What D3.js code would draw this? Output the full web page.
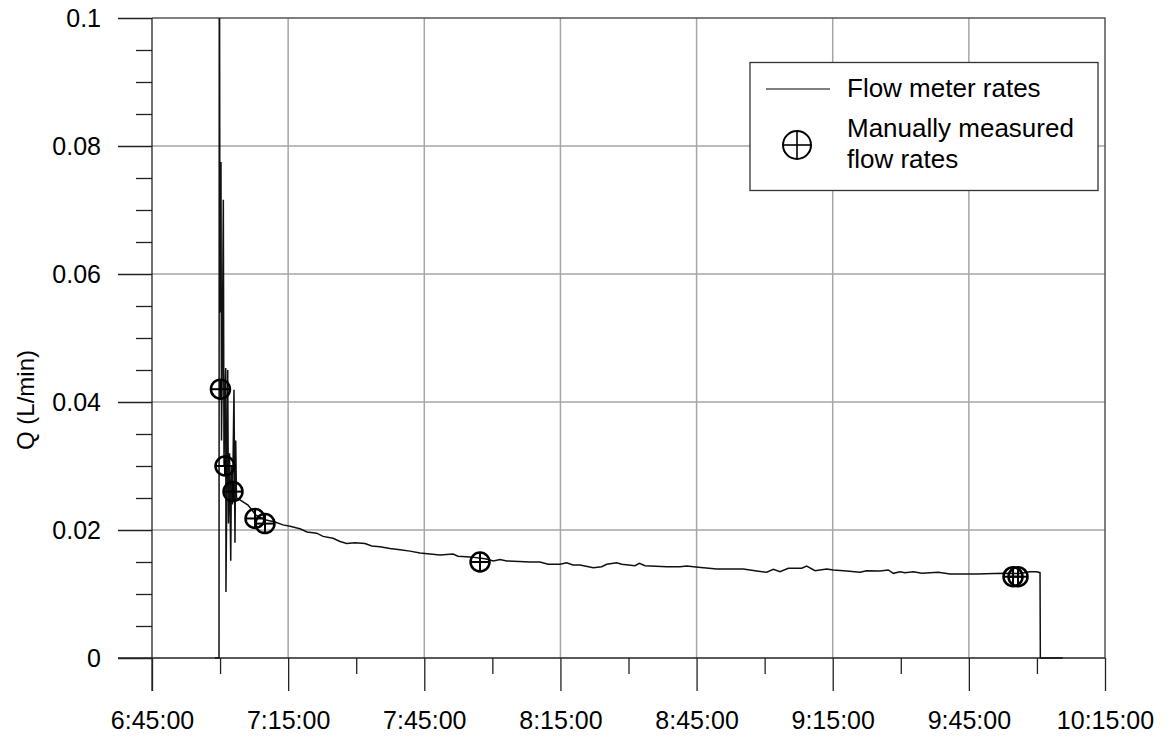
<!DOCTYPE html>
<html>
<head>
<meta charset="utf-8">
<script src="https://cdn.jsdelivr.net/npm/d3@7"></script>
<style>
  html, body { margin: 0; padding: 0; background: #fff; }
  svg { display: block; font-family: "Liberation Sans", Arial, sans-serif; }
</style>
</head>
<body>
<svg id="chart" width="1172" height="738"></svg>
<script>
// Flow meter record (clock time, L/min)
const flowTimes = [
  "6:58:53","6:59:46","6:59:50","6:59:59","7:00:12","7:00:19","7:00:29","7:00:43",
  "7:00:52","7:01:03","7:01:15","7:01:18","7:01:41","7:01:51","7:02:05","7:02:21",
  "7:02:31","7:02:44","7:03:04","7:03:17","7:03:27","7:03:37",
  "7:04:23","7:06:09","7:07:55","7:09:54","7:12:06","7:13:52","7:15:25","7:16:57",
  "7:17:37","7:19:09","7:21:18","7:22:41","7:24:53","7:26:26","7:27:54","7:29:44",
  "7:31:56","7:33:25","7:35:14","7:37:27","7:39:39","7:41:51","7:44:03","7:48:28",
  "7:51:20","7:52:26","7:55:04","7:58:23","8:00:13","8:01:41","8:03:10","8:08:18",
  "8:10:30","8:12:16","8:14:54","8:16:23","8:17:46","8:19:19","8:22:15","8:24:06",
  "8:25:12","8:27:24","8:28:30","8:31:26","8:32:23","8:33:38","8:38:25","8:41:21",
  "8:42:50","8:45:23","8:49:26","8:55:18","8:58:15","9:00:27","9:01:55","9:03:23",
  "9:05:13","9:08:10","9:09:16","9:11:06","9:13:41","9:15:08","9:18:05","9:21:01",
  "9:22:29","9:25:25","9:27:15","9:28:21","9:29:50","9:30:56","9:32:46","9:34:37",
  "9:38:16","9:40:51","9:46:44","9:52:36","9:56:16","9:58:28","9:59:57","10:00:41",
  "10:00:45","10:05:41"
];
const flowRates = [
  0, 0, 0.13, 0.054, 0.0775, 0.034, 0.046, 0.0716,
  0.030, 0.040, 0.0453, 0.0103, 0.045, 0.021, 0.032, 0.0152,
  0.030, 0.024, 0.0419, 0.018, 0.034, 0.025,
  0.0247, 0.0239, 0.0223, 0.0216, 0.02125, 0.0208, 0.0206, 0.0203,
  0.0202, 0.0197, 0.0195, 0.0190, 0.0187, 0.0182, 0.0179, 0.0180,
  0.0179, 0.0175, 0.0174, 0.0171, 0.0169, 0.0167, 0.0164, 0.0161,
  0.01625, 0.0159, 0.0158, 0.0155, 0.01516, 0.0154, 0.01516, 0.0150,
  0.0150, 0.01464, 0.01464, 0.01489, 0.01453, 0.01453, 0.01411, 0.01427,
  0.01464, 0.01489, 0.01464, 0.01442, 0.0148, 0.01442, 0.01427, 0.01427,
  0.01437, 0.01417, 0.0139, 0.0139, 0.01359, 0.01339, 0.01386, 0.01348,
  0.01402, 0.01402, 0.01437, 0.01364, 0.0139, 0.01375, 0.01359, 0.01339,
  0.01364, 0.01359, 0.01375, 0.01323, 0.01348, 0.01333, 0.01348, 0.01323,
  0.01339, 0.01313, 0.01313, 0.01323, 0.0132, 0.01348, 0.01348, 0.01333,
  0, 0
];

// Hand-timed bucket measurements
const manualTimes = ["7:00:05","7:01:05","7:02:51","7:07:42","7:09:54","7:57:17","9:54:44","9:55:50"];
const manualRates = [0.042, 0.030, 0.026, 0.0218, 0.021, 0.015, 0.0127, 0.0127];

// Axis ticks
const xTickLabels = ["6:45:00","7:15:00","7:45:00","8:15:00","8:45:00","9:15:00","9:45:00","10:15:00"];
const yTickValues = [0, 0.02, 0.04, 0.06, 0.08, 0.1];
const yTickLabels = ["0", "0.02", "0.04", "0.06", "0.08", "0.1"];
const yAxisTitle = "Q (L/min)";
const legendLabels = ["Flow meter rates", ["Manually measured", "flow rates"]];

const toSec = s => { const p = s.split(":").map(Number); return p[0] * 3600 + p[1] * 60 + p[2]; };
const fmtTime = sec => {
  const h = Math.floor(sec / 3600), m = Math.floor((sec % 3600) / 60), s = sec % 60;
  return h + ":" + String(m).padStart(2, "0") + ":" + String(s).padStart(2, "0");
};

const svg = d3.select("#chart");
const L = 152, R = 1105, T = 18, B = 658;
const fontSize = 25;

const xMajor = xTickLabels.map(toSec);
const x = d3.scaleLinear().domain([xMajor[0], xMajor[xMajor.length - 1]]).range([L, R]);
const y = d3.scaleLinear().domain([0, 0.1]).range([B, T]);

const xMinor = d3.range(xMajor[0] + 900, xMajor[xMajor.length - 1], 1800);
const yMinor = d3.range(0, 0.1001, 0.005).filter(v => !yTickValues.some(t => Math.abs(t - v) < 1e-9));

// Grid
const grid = svg.append("g").attr("stroke", "#a6a6a6").attr("stroke-width", 1.5);
grid.selectAll("line.gx").data(xMajor.slice(1, -1)).join("line")
  .attr("x1", d => x(d)).attr("x2", d => x(d)).attr("y1", T).attr("y2", B);
grid.selectAll("line.gy").data(yTickValues.slice(1, -1)).join("line")
  .attr("y1", d => y(d)).attr("y2", d => y(d)).attr("x1", L).attr("x2", R);

// Frame top and right
svg.append("path")
  .attr("d", `M${L},${T}H${R}V${B}`)
  .attr("fill", "none").attr("stroke", "#555").attr("stroke-width", 1.5);

// X axis
const xAxis = d3.axisBottom(x).tickValues(xMajor).tickFormat(fmtTime).tickSize(33).tickPadding(20);
const gx = svg.append("g").attr("transform", `translate(0,${B})`).call(xAxis);
gx.select(".domain").remove();
gx.append("line").attr("x1", L - 34).attr("x2", R).attr("stroke", "#222").attr("stroke-width", 1.3);
gx.selectAll(".tick line").attr("stroke", "#222").attr("stroke-width", 1.3);
gx.selectAll("text").attr("font-size", fontSize).attr("fill", "#000").attr("font-family", "Liberation Sans, Arial, sans-serif");
const gxm = svg.append("g").attr("transform", `translate(0,${B})`)
  .call(d3.axisBottom(x).tickValues(xMinor).tickFormat("").tickSize(16));
gxm.select(".domain").remove();
gxm.selectAll(".tick line").attr("stroke", "#222").attr("stroke-width", 1.3);

// Y axis
const yAxis = d3.axisLeft(y).tickValues(yTickValues).tickFormat((d, i) => yTickLabels[i]).tickSize(34).tickPadding(17);
const gy = svg.append("g").attr("transform", `translate(${L},0)`).call(yAxis);
gy.select(".domain").remove();
gy.append("line").attr("y1", T).attr("y2", B + 33).attr("stroke", "#222").attr("stroke-width", 1.3);
gy.selectAll(".tick line").attr("stroke", "#222").attr("stroke-width", 1.3);
gy.selectAll("text").attr("font-size", fontSize).attr("fill", "#000").attr("font-family", "Liberation Sans, Arial, sans-serif");
const gym = svg.append("g").attr("transform", `translate(${L},0)`)
  .call(d3.axisLeft(y).tickValues(yMinor).tickFormat("").tickSize(16));
gym.select(".domain").remove();
gym.selectAll(".tick line").attr("stroke", "#222").attr("stroke-width", 1.3);

svg.append("text")
  .attr("transform", `translate(34,400) rotate(-90)`)
  .attr("text-anchor", "middle")
  .attr("font-size", 24)
  .text(yAxisTitle);

// Clip to plot area
svg.append("clipPath").attr("id", "plotClip")
  .append("rect").attr("x", L).attr("y", T).attr("width", R - L).attr("height", B - T + 1);

const flow = flowTimes.map((t, i) => ({ t: toSec(t), q: flowRates[i] }));
const line = d3.line().x(d => x(d.t)).y(d => y(d.q));
svg.append("path")
  .datum(flow)
  .attr("clip-path", "url(#plotClip)")
  .attr("d", line)
  .attr("fill", "none").attr("stroke", "#111").attr("stroke-width", 1.5)
  .attr("stroke-linejoin", "miter");

// Measured points: circle with cross
const manual = manualTimes.map((t, i) => ({ t: toSec(t), q: manualRates[i] }));
function crossCircle(g, r, w) {
  g.append("circle").attr("r", r).attr("fill", "none").attr("stroke", "#000").attr("stroke-width", w);
  g.append("line").attr("x1", -r).attr("x2", r).attr("stroke", "#000").attr("stroke-width", w * 0.8);
  g.append("line").attr("y1", -r).attr("y2", r).attr("stroke", "#000").attr("stroke-width", w * 0.8);
}
svg.append("g").selectAll("g").data(manual).join("g")
  .attr("transform", d => `translate(${x(d.t)},${y(d.q)})`)
  .each(function () { crossCircle(d3.select(this), 9.5, 2.5); });

// Legend
const lg = svg.append("g");
lg.append("rect").attr("x", 750).attr("y", 62.5).attr("width", 348).attr("height", 128)
  .attr("fill", "#fff").attr("stroke", "#333").attr("stroke-width", 1.3);
lg.append("line").attr("x1", 766).attr("x2", 830).attr("y1", 89).attr("y2", 89)
  .attr("stroke", "#555").attr("stroke-width", 1.5);
lg.append("text").attr("x", 847).attr("y", 97).attr("font-size", 26).text(legendLabels[0]);
crossCircle(lg.append("g").attr("transform", "translate(797,145)"), 14, 2);
const t2 = lg.append("text").attr("x", 847).attr("y", 137).attr("font-size", 26);
t2.append("tspan").attr("x", 847).text(legendLabels[1][0]);
t2.append("tspan").attr("x", 847).attr("dy", 31).text(legendLabels[1][1]);
</script>
</body>
</html>
